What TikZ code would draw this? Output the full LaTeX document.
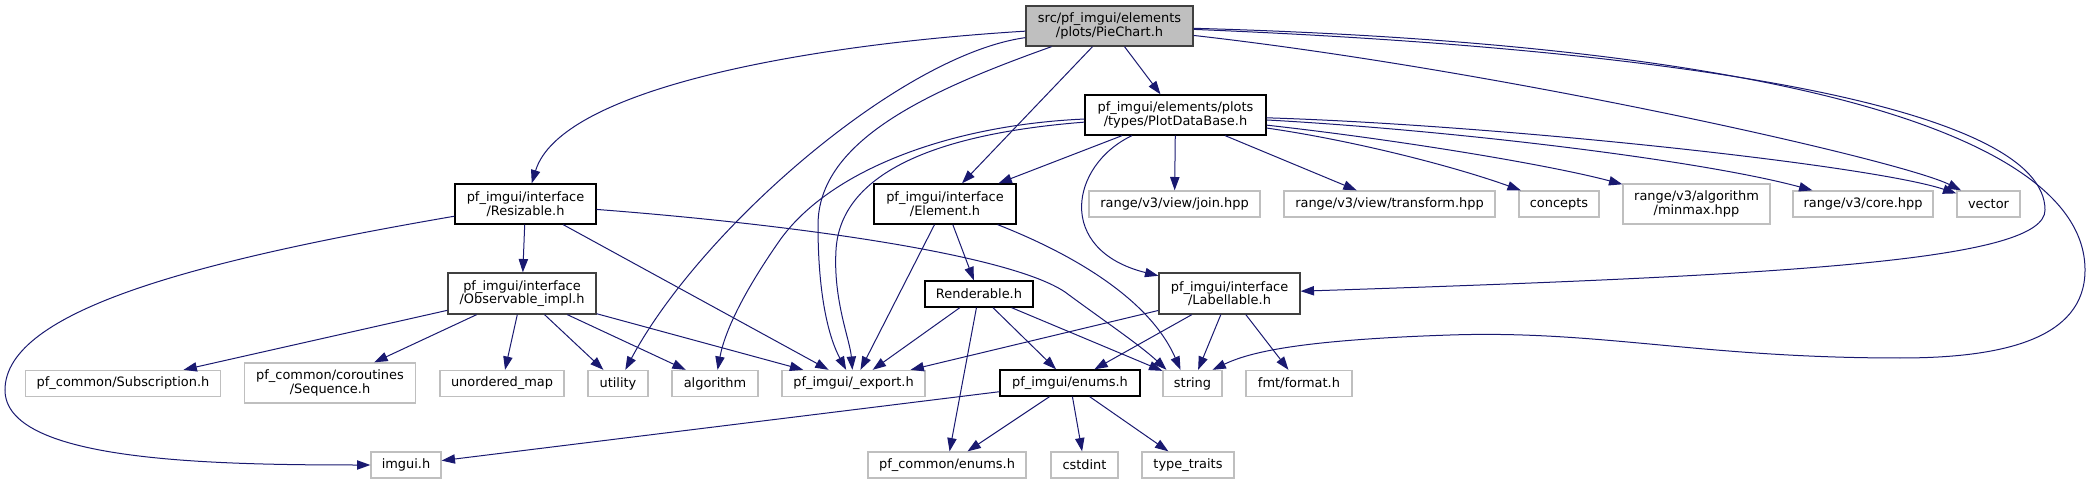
\documentclass[tikz,border=0pt]{standalone}
\usepackage{fontspec}
\setmainfont{DejaVu Sans}
\usetikzlibrary{arrows.meta,calc}
\definecolor{edgec}{HTML}{191970}
\definecolor{extc}{HTML}{BFBFBF}
\definecolor{darkb}{HTML}{404040}
\newdimen\px \px=0.75pt
\begin{document}
\begin{tikzpicture}[x=0.75pt,y=-0.75pt,
  box/.style={draw=black, line width=1pt, inner sep=0pt, align=center,
    font=\fontsize{9.7}{10.1}\selectfont},
  ext/.style={box, draw=extc},
  one/.style={minimum height=26\px},
  two/.style={minimum height=40\px},
  dep/.style={draw=edgec, line width=0.75pt, -{Triangle[length=10pt,width=7pt]}},
]
\useasboundingbox (0,0) rectangle (2090,484);

% nodes
\node[box, two, minimum width=167\px, fill=extc, draw=darkb] (pie) at (1109.5,26) {src/pf\_imgui/elements\\/plots/PieChart.h};
\node[box, two, minimum width=181\px] (pdb) at (1175.5,115) {pf\_imgui/elements/plots\\/types/PlotDataBase.h};
\node[box, two, minimum width=142\px] (elem) at (945,204) {pf\_imgui/interface\\/Element.h};
\node[ext, one, minimum width=171\px] (join) at (1174.5,204) {range/v3/view/join.hpp};
\node[ext, one, minimum width=211\px] (transform) at (1389.5,204) {range/v3/view/transform.hpp};
\node[ext, one, minimum width=80\px] (concepts) at (1559,204) {concepts};
\node[ext, two, minimum width=147\px] (minmax) at (1696.5,204) {range/v3/algorithm\\/minmax.hpp};
\node[ext, one, minimum width=140\px] (core) at (1863,204) {range/v3/core.hpp};
\node[ext, one, minimum width=63\px] (vector) at (1988.5,204) {vector};
\node[box, two, minimum width=141\px] (resiz) at (525.5,204) {pf\_imgui/interface\\/Resizable.h};
\node[box, two, minimum width=148\px, minimum height=41\px, draw=darkb] (obs) at (522,293.5) {pf\_imgui/interface\\/Observable\_impl.h};
\node[ext, one, minimum width=195\px] (subs) at (123,383.5) {pf\_common/Subscription.h};
\node[ext, two, minimum width=171\px] (seq) at (330,383) {pf\_common/coroutines\\/Sequence.h};
\node[ext, one, minimum width=124\px] (umap) at (502,383.5) {unordered\_map};
\node[ext, one, minimum width=60\px] (utility) at (618,383.5) {utility};
\node[ext, one, minimum width=86\px] (algo) at (715,383.5) {algorithm};
\node[ext, one, minimum width=143\px] (export) at (853.5,383.5) {pf\_imgui/\_export.h};
\node[box, one, minimum width=108\px] (rend) at (979,294) {Renderable.h};
\node[box, two, minimum width=141\px, minimum height=41\px, draw=darkb] (lab) at (1229.5,293.5) {pf\_imgui/interface\\/Labellable.h};
\node[box, one, minimum width=140\px] (enums) at (1070,383) {pf\_imgui/enums.h};
\node[ext, one, minimum width=59\px] (string) at (1192.5,383.5) {string};
\node[ext, one, minimum width=106\px] (fmt) at (1299,383.5) {fmt/format.h};
\node[ext, one, minimum width=158\px] (pcenums) at (947,465) {pf\_common/enums.h};
\node[ext, one, minimum width=67\px] (cstdint) at (1084.5,465) {cstdint};
\node[ext, one, minimum width=92\px] (typet) at (1188,465) {type\_traits};
\node[ext, one, minimum width=70\px] (imgui) at (406,465) {imgui.h};

% PieChart.h
\draw[dep] (pie) .. controls (800,45) and (560,90) .. (resiz);
\draw[dep] (pie) .. controls (900,55) and (700,230) .. (utility);
\draw[dep] (pie) .. controls (930,90) and (818,140) .. (818,225) .. controls (818,300) and (830,340) .. (export);
\draw[dep] ($(pie.south)+(-17,0)$) -- ($(elem.north)+(17,0)$);
\draw[dep] ($(pie.south)+(15,0)$) -- ($(pdb.north)+(-15,0)$);
\draw[dep] (pie) .. controls (1500,70) and (1900,160) .. (vector);
\draw[dep] (pie) .. controls (1700,50) and (2045,110) .. (2045,210) .. controls (2045,260) and (1800,275) .. (lab);
\draw[dep] (pie) .. controls (1800,45) and (2085,140) .. (2085,270) .. controls (2085,340) and (2000,358) .. (1900,358) .. controls (1700,358) and (1600,330) .. (1450,335) .. controls (1300,340) and (1250,352) .. ($(string.north)+(20,0)$);

% PlotDataBase.h
\draw[dep] (pdb) -- (elem);
\draw[dep] (pdb) .. controls (950,125) and (830,170) .. (780,240) .. controls (745,290) and (725,330) .. (algo);
\draw[dep] (pdb) .. controls (920,135) and (840,180) .. (836,250) .. controls (833,300) and (850,340) .. (export);
\draw[dep] (pdb) -- (join);
\draw[dep] (pdb) -- (transform);
\draw[dep] (pdb) .. controls (1350,140) and (1450,165) .. (concepts);
\draw[dep] (pdb) .. controls (1400,140) and (1550,165) .. (minmax);
\draw[dep] (pdb) .. controls (1450,130) and (1700,160) .. (core);
\draw[dep] (pdb) .. controls (1500,125) and (1870,165) .. (vector);
\draw[dep] (pdb) .. controls (1070,165) and (1055,250) .. (lab);

% Resizable.h
\draw[dep] (resiz) -- (obs);
\draw[dep] (resiz) .. controls (200,260) and (5,310) .. (5,390) .. controls (5,460) and (200,465) .. (imgui);
\draw[dep] (resiz) -- (export);
\draw[dep] (resiz) .. controls (800,225) and (1010,255) .. (1065,292) .. controls (1100,318) and (1140,345) .. ($(string.north)+(-26,0)$);

% Observable_impl.h
\draw[dep] (obs) -- (subs);
\draw[dep] (obs) -- (seq);
\draw[dep] (obs) -- (umap);
\draw[dep] (obs) -- (utility);
\draw[dep] (obs) -- (algo);
\draw[dep] (obs) -- (export);

% Element.h
\draw[dep] (elem) -- (rend);
\draw[dep] (elem) -- (export);
\draw[dep] (elem) .. controls (1075,255) and (1150,300) .. ($(string.north)+(-12,0)$);

% Renderable.h
\draw[dep] (rend) -- (export);
\draw[dep] (rend) -- (enums);
\draw[dep] (rend) -- (pcenums);
\draw[dep] (rend) -- (string);

% Labellable.h
\draw[dep] (lab) -- (export);
\draw[dep] (lab) -- (enums);
\draw[dep] (lab) -- (string);
\draw[dep] (lab) -- (fmt);

% enums.h
\draw[dep] (enums) -- (imgui);
\draw[dep] (enums) -- (pcenums);
\draw[dep] (enums) -- (cstdint);
\draw[dep] (enums) -- (typet);
\end{tikzpicture}
\end{document}
